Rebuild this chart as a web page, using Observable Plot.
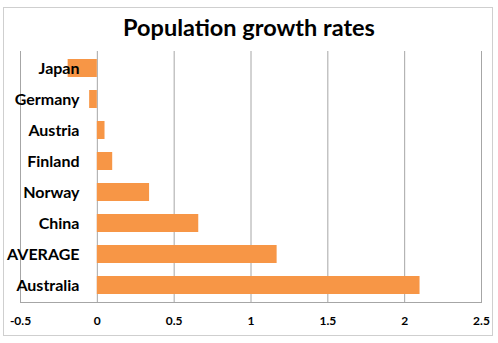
<!DOCTYPE html>
<html><head><meta charset="utf-8">
<script src="https://cdn.jsdelivr.net/npm/d3@7"></script>
<script src="https://cdn.jsdelivr.net/npm/@observablehq/plot@0.6"></script>
<style>
body{margin:0;background:#fff;font-family:Lato,sans-serif;}
#wrap{position:relative;width:498px;height:343px;}
#border{position:absolute;left:3px;top:7px;width:488px;height:327px;border:1.5px solid #cfcfcf;}
#title{position:absolute;left:0;top:13px;width:498px;text-align:center;font:bold 23.5px Lato,sans-serif;color:#000;}
#chart{position:absolute;left:0;top:0;}
</style></head>
<body><div id="wrap"><div id="border"></div><div id="title">Population growth rates</div><div id="chart"></div></div>
<script>
const countries = ["Japan","Germany","Austria","Finland","Norway","China","AVERAGE","Australia"];
const rates = [-0.19,-0.05,0.05,0.10,0.34,0.66,1.17,2.10];
const xTicks = [-0.5,0,0.5,1,1.5,2,2.5];
const data = countries.map((c,i)=>({country:c, rate:rates[i]}));
const chart = Plot.plot({
  width:498, height:343,
  marginTop:51, marginBottom:41, marginLeft:20, marginRight:17,
  style:{fontFamily:"Lato, sans-serif", background:"transparent"},
  x:{domain:[-0.5,2.5]},
  y:{domain:countries, paddingInner:0.43, paddingOuter:0.215},
  marks:[
    Plot.gridX(xTicks,{stroke:"#a6a6a6", strokeOpacity:1}),
    Plot.frame({anchor:"bottom", stroke:"#a6a6a6"}),
    Plot.barX(data,{x:"rate", y:"country", fill:"#F79646"}),
    Plot.axisX(xTicks,{tickSize:0, tickPadding:14, fontSize:12, fontWeight:"bold", label:null, tickFormat:d=>String(d), fill:"#000"}),
    Plot.axisY({tickSize:0, tickPadding:-59, fontSize:16, fontWeight:"bold", label:null, fill:"#000", textAnchor:"end"})
  ]
});
document.getElementById("chart").appendChild(chart);
</script></body></html>
